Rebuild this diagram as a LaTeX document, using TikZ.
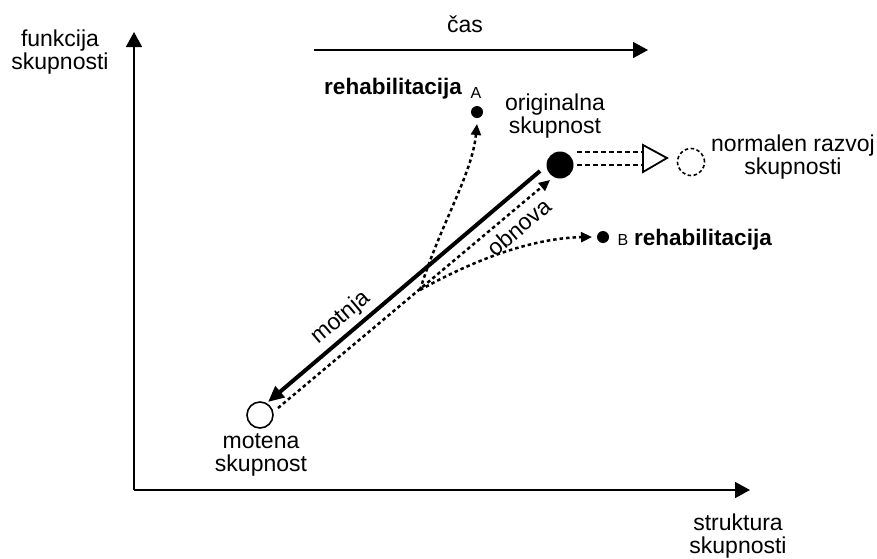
\documentclass[tikz,border=0pt]{standalone}
\usepackage{fontspec}
\setmainfont{Liberation Sans}
\usetikzlibrary{arrows.meta}
\begin{document}
\begin{tikzpicture}[x=1pt,y=-1pt,
  txt/.style={font=\fontsize{23}{23}\selectfont, align=center, inner sep=0pt},
  btxt/.style={font=\fontsize{22.5}{24}\selectfont\bfseries, inner sep=0pt},
  small/.style={font=\fontsize{16}{18}\selectfont, inner sep=0pt},
  axis/.style={line width=1.6pt, -{Triangle[length=15pt,width=16pt]}},
  hit/.style={line width=4pt, -{Triangle[length=16pt,width=14pt]}},
  dots/.style={line width=2.5pt, dash pattern=on 3.5pt off 3pt, -{Triangle[length=11pt,width=10pt]}},
  dashln/.style={line width=1.6pt, dash pattern=on 5pt off 3pt},
  dotnode/.style={circle, fill=black, inner sep=0pt, minimum size=12pt}]
\useasboundingbox (0,0) rectangle (877,558);

% axes
\coordinate (o) at (134,490);
\coordinate (ytip) at (134,32);
\coordinate (xtip) at (750,490);
\draw[axis] (o) -- (ytip);
\draw[axis] (o) -- (xtip);
\node[txt] (ylab) at (60,52) {funkcija\\skupnosti};
\node[txt] (xlab) at (738,536) {struktura\\skupnosti};

% time arrow
\coordinate (t0) at (314,50);
\coordinate (t1) at (648,50);
\draw[axis] (t0) -- (t1);
\node[txt] (cas) at (465,24) {čas};

% states
\node[circle, fill=black, minimum size=27pt, inner sep=0pt] (orig) at (560,165) {};
\node[circle, draw, line width=1.6pt, minimum size=26pt, inner sep=0pt] (mot) at (260,415) {};
\node[circle, draw, line width=1.6pt, dash pattern=on 3.5pt off 2.5pt, minimum size=27pt, inner sep=0pt] (norm) at (691,162) {};
\node[dotnode] (dA) at (477,112) {};
\node[dotnode] (dB) at (603,237) {};

\node[txt] (origlab) at (555,116) {originalna\\skupnost};
\node[txt] (motlab) at (261,455) {motena\\skupnost};
\node[txt] (normlab) at (793,157) {normalen razvoj\\skupnosti};
\node[btxt, anchor=east] (rehA) at (462,89) {rehabilitacija};
\node[small] (lA) at (476,93) {A};
\node[small] (lB) at (623,240) {B};
\node[btxt, anchor=west] (rehB) at (634,240) {rehabilitacija};

% disturbance and recovery
\coordinate (m0) at (540,171);
\coordinate (m1) at (268,402);
\draw[hit] (m0) -- (m1);
\node[txt, rotate=40.3] (motnja) at (341,318) {motnja};

\coordinate (r0) at (278,408);
\coordinate (r1) at (550,180);
\draw[dots] (r0) -- (r1);
\node[txt, rotate=40.3] (obnova) at (519,227) {obnova};

% rehabilitation branches
\coordinate (br) at (420,290);
\coordinate (tA) at (477,124);
\coordinate (tB) at (592,237);
\draw[dots] (br) .. controls (440,225) and (472,175) .. (tA);
\draw[dots] (br) .. controls (470,262) and (530,238) .. (tB);

% normal development
\coordinate (n0a) at (577,152);
\coordinate (n1a) at (643,152);
\coordinate (n0b) at (577,165);
\coordinate (n1b) at (643,165);
\draw[dashln] (n0a) -- (n1a);
\draw[dashln] (n0b) -- (n1b);
\coordinate (tri1) at (643,145);
\coordinate (tri2) at (643,172);
\coordinate (tri3) at (667,158);
\draw[line width=1.8pt, line join=miter] (tri1) -- (tri3) -- (tri2) -- cycle;
\end{tikzpicture}
\end{document}
